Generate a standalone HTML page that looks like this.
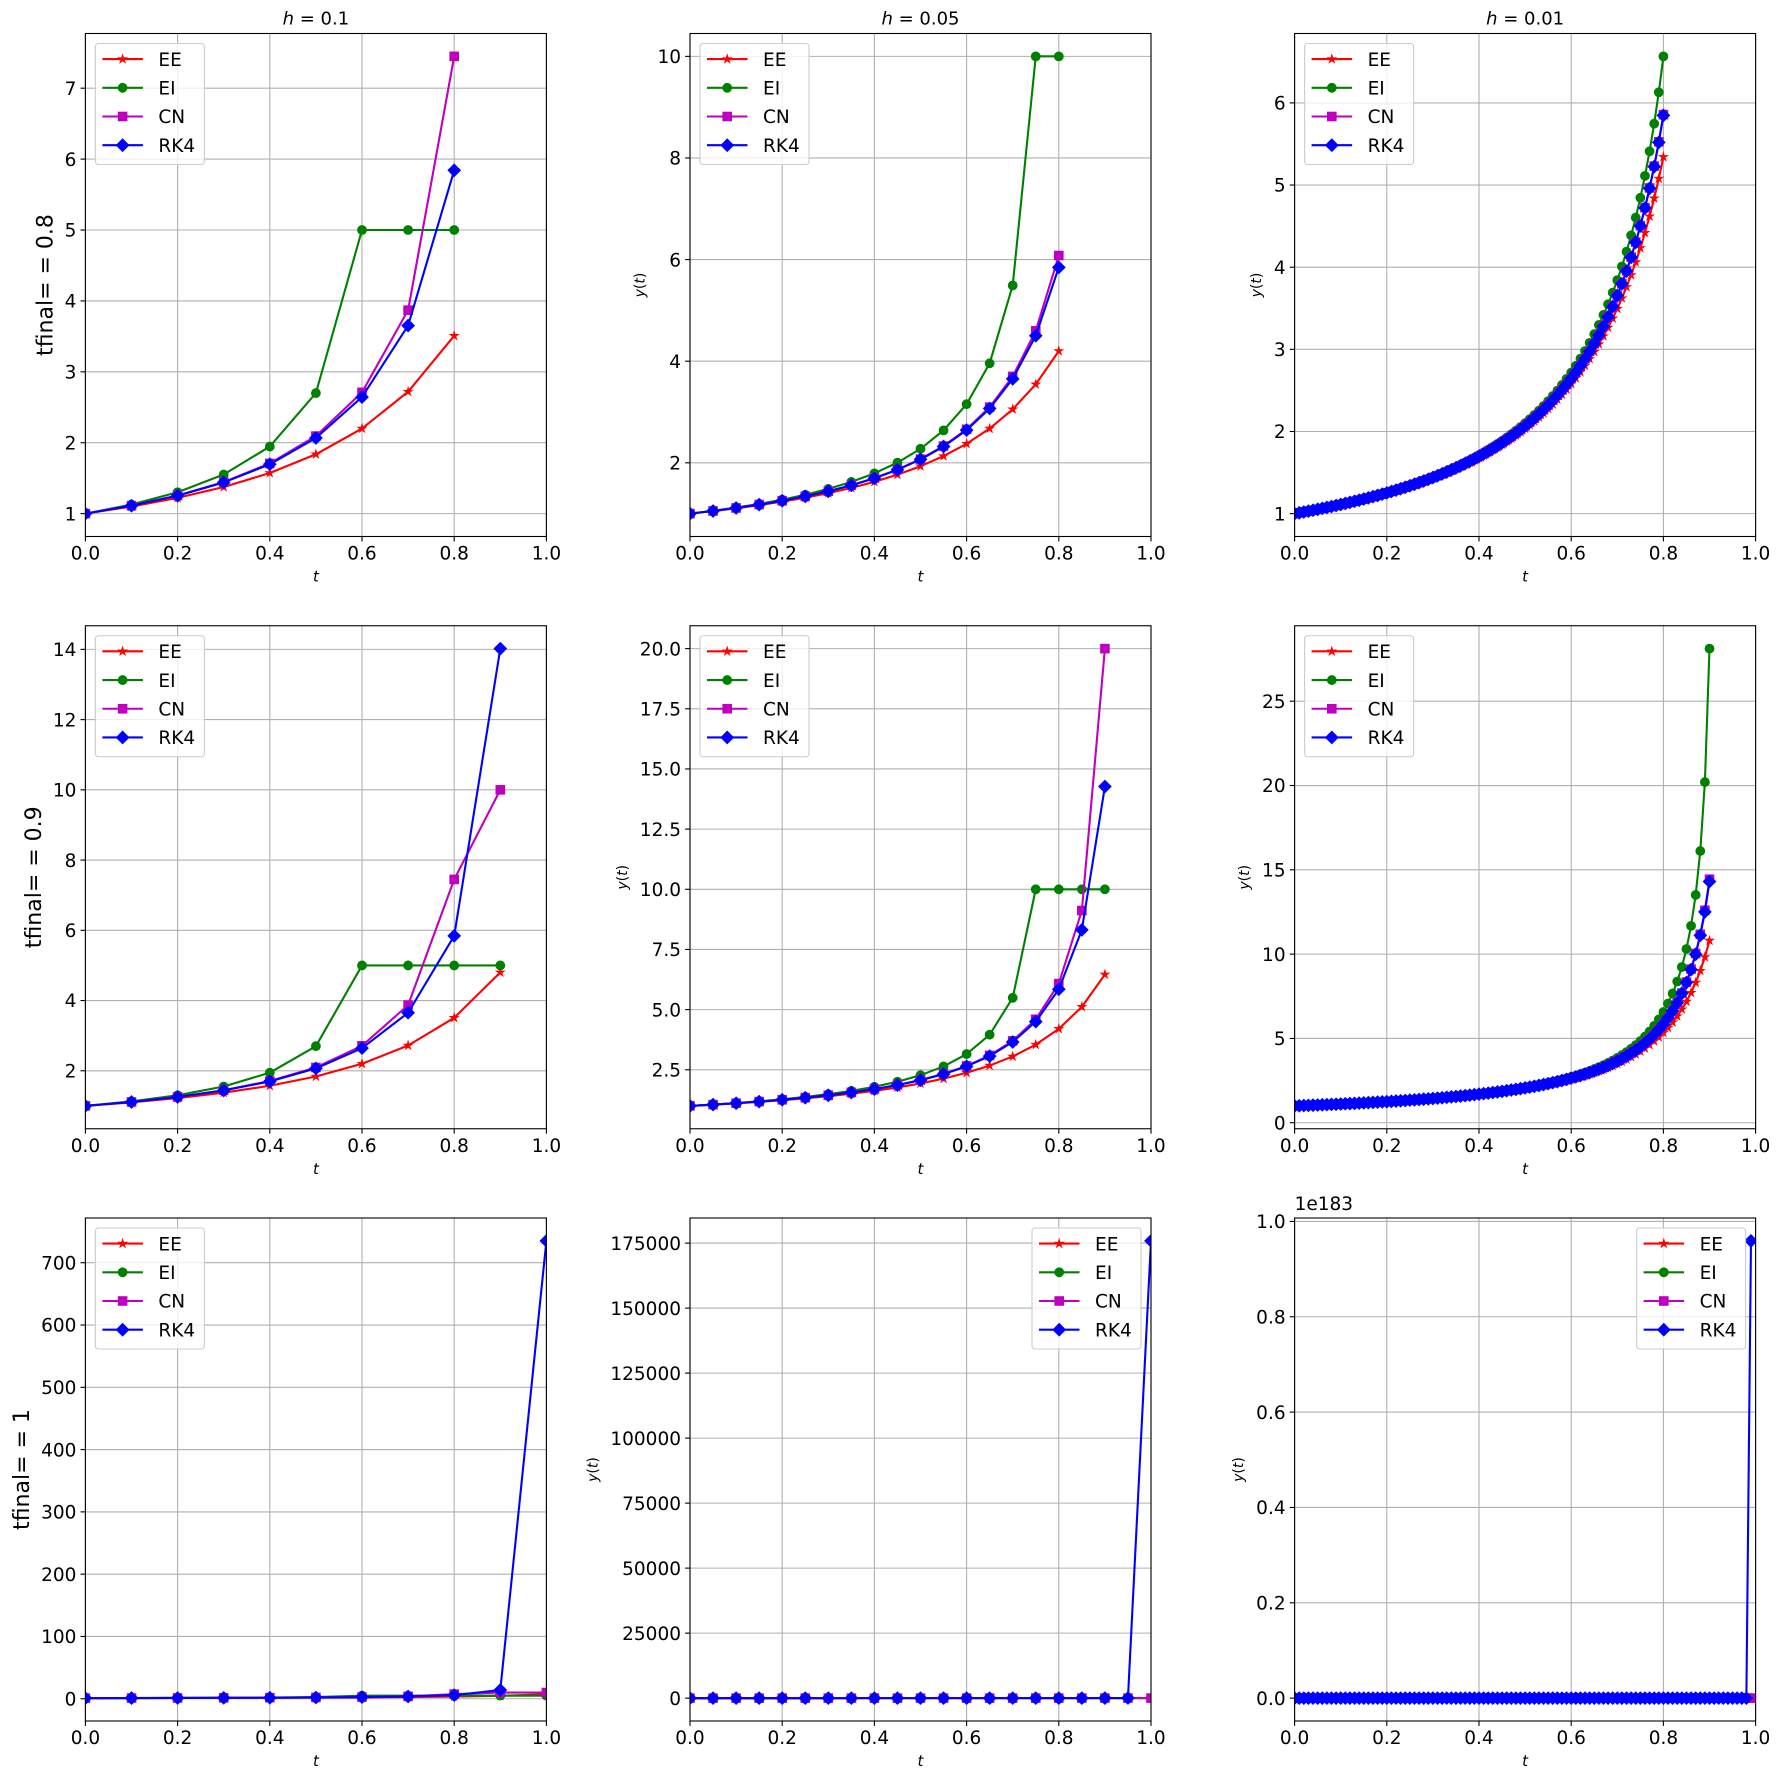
<!DOCTYPE html>
<html><head><meta charset="utf-8"><style>
html,body{margin:0;padding:0;background:#fff;}
svg{display:block;font-family:"DejaVu Sans","Liberation Sans",sans-serif;}
</style></head><body>
<svg id="s" width="1778" height="1778" viewBox="0 0 1778 1778" xmlns="http://www.w3.org/2000/svg"></svg>
<script>
const S=document.getElementById('s');let out='';
const colL=[85.4,690,1294.6],W=461,rowT=[33.5,625.75,1218],H=503;
const TF=[0.8,0.9,1.0],HS=[0.1,0.05,0.01];
const f=(t,y)=>t*t+y*y;
function solve(tf,h){
 const N=Math.round(tf/h);const t=[];for(let i=0;i<=N;i++)t.push(i*h);
 const ee=[1],ei=[1],cn=[1],rk=[1];
 for(let n=0;n<N;n++){
  const tn=t[n],t1=t[n+1];
  ee.push(ee[n]+h*f(tn,ee[n]));
  let c=ei[n]+h*t1*t1;let d=1-4*h*c;ei.push((1-Math.sqrt(Math.max(d,0)))/(2*h));
  c=cn[n]+h/2*(f(tn,cn[n])+t1*t1);d=1-2*h*c;cn.push((1-Math.sqrt(Math.max(d,0)))/h);
  const y=rk[n];const k1=f(tn,y),k2=f(tn+h/2,y+h/2*k1),k3=f(tn+h/2,y+h/2*k2),k4=f(t1,y+h*k3);
  rk.push(y+h/6*(k1+2*k2+2*k3+k4));
 }
 return {t,s:[ee,ei,cn,rk]};
}
const ticks=[
 [[1,2,3,4,5,6,7],[2,4,6,8,10],[1,2,3,4,5,6]],
 [[2,4,6,8,10,12,14],[2.5,5,7.5,10,12.5,15,17.5,20],[0,5,10,15,20,25]],
 [[0,100,200,300,400,500,600,700],[0,25000,50000,75000,100000,125000,150000,175000],[0,.2,.4,.6,.8,1].map(v=>v*1e183)]];
function lab(r,c,v){
 if(r==1&&c==1)return v.toFixed(1);
 if(r==2&&c==2)return (v/1e183).toFixed(1);
 return String(v);
}
const cols=['#ff0000','#008000','#bf00bf','#0000ff'];const names=['EE','EI','CN','RK4'];
function marker(k,x,y){
 const c=cols[k];
 if(k==0){let p='';for(let i=0;i<10;i++){const r=i%2?1.5:4.0;const a=-Math.PI/2+i*Math.PI/5;p+=(i?'L':'M')+(x+r*Math.cos(a)).toFixed(2)+','+(y+r*Math.sin(a)).toFixed(2);}return `<path d="${p}Z" fill="${c}" stroke="${c}" stroke-width="1.1"/>`;}
 if(k==1)return `<circle cx="${x}" cy="${y}" r="4.2" fill="${c}" stroke="${c}" stroke-width="1.4"/>`;
 if(k==2)return `<rect x="${x-4.1}" y="${y-4.1}" width="8.2" height="8.2" fill="${c}" stroke="${c}" stroke-width="1.4"/>`;
 return `<path d="M${x},${y-5.9}L${x+5.9},${y}L${x},${y+5.9}L${x-5.9},${y}Z" fill="${c}" stroke="${c}" stroke-width="1.4"/>`;
}
const FS=18.5,CW=11.78;
for(let r=0;r<3;r++)for(let c=0;c<3;c++){
 const L=colL[c],T=rowT[r],R=L+W,B=T+H;
 const d=solve(TF[r],HS[c]);
 let mn=Infinity,mx=-Infinity;d.s.forEach(a=>a.forEach(v=>{if(isFinite(v)){mn=Math.min(mn,v);mx=Math.max(mx,v);}}));
 const m=(mx-mn)*0.05;const y0=mn-m,y1=mx+m;
 const X=v=>L+v*W,Y=v=>B-(v-y0)/(y1-y0)*H;
 out+=`<clipPath id="c${r}${c}"><rect x="${L}" y="${T}" width="${W}" height="${H}"/></clipPath>`;
 for(let i=0;i<=5;i++){const x=X(i*0.2);out+=`<line x1="${x}" y1="${T}" x2="${x}" y2="${B}" stroke="#b0b0b0" stroke-width="1.1"/>`;
  out+=`<line x1="${x}" y1="${B}" x2="${x}" y2="${B+4.9}" stroke="#000" stroke-width="1.1"/>`;
  out+=`<text x="${x}" y="${B+23}" font-size="${FS}" text-anchor="middle">${(i*0.2).toFixed(1)}</text>`;}
 let maxw=0;
 ticks[r][c].forEach(v=>{if(v<y0||v>y1)return;const y=Y(v);const s=lab(r,c,v);
  maxw=Math.max(maxw,s.replace('.','').length*CW+(s.includes('.')?5.9:0));
  out+=`<line x1="${L}" y1="${y}" x2="${R}" y2="${y}" stroke="#b0b0b0" stroke-width="1.1"/>`;
  out+=`<line x1="${L-4.9}" y1="${y}" x2="${L}" y2="${y}" stroke="#000" stroke-width="1.1"/>`;
  out+=`<text x="${L-9}" y="${y+6.7}" font-size="${FS}" text-anchor="end">${s}</text>`;});
 out+=`<g clip-path="url(#c${r}${c})">`;
 d.s.forEach((a,k)=>{let p='',pen=false;
  a.forEach((v,i)=>{if(isFinite(v)){p+=(pen?'L':'M')+X(d.t[i]).toFixed(2)+','+Y(v).toFixed(2);pen=true;}else pen=false;});
  out+=`<path d="${p}" fill="none" stroke="${cols[k]}" stroke-width="2.1" stroke-linejoin="round"/>`;
  a.forEach((v,i)=>{if(isFinite(v))out+=marker(k,X(d.t[i]),Y(v));});
 });
 out+=`</g>`;
 out+=`<rect x="${L}" y="${T}" width="${W}" height="${H}" fill="none" stroke="#000" stroke-width="1.1"/>`;
 out+=`<text x="${(L+R)/2}" y="${B+45}" font-size="15" font-style="italic" text-anchor="middle">t</text>`;
 if(r==0)out+=`<text x="${(L+R)/2}" y="${T-9}" font-size="18" text-anchor="middle"><tspan font-style="italic">h</tspan> = ${HS[c]}</text>`;
 if(c==0){const xl=L-9-maxw-12;out+=`<text transform="translate(${xl},${(T+B)/2}) rotate(-90)" font-size="22" text-anchor="middle">tfinal= = ${TF[r]==1?'1':TF[r]}</text>`;}
 else{const xl=L-9-maxw-13;out+=`<text transform="translate(${xl},${(T+B)/2}) rotate(-90)" font-size="14" text-anchor="middle"><tspan font-style="italic">y</tspan>(<tspan font-style="italic">t</tspan>)</text>`;}
 if(r==2&&c==2)out+=`<text x="${L}" y="${T-8}" font-size="${FS}">1e183</text>`;
 const lw=109,lh=121;const lx=r==2&&c>0?R-10-lw:L+10,ly=T+10;
 out+=`<rect x="${lx}" y="${ly}" width="${lw}" height="${lh}" rx="3" fill="#fff" fill-opacity="0.8" stroke="#cccccc" stroke-width="1.1"/>`;
 for(let k=0;k<4;k++){const yy=ly+15.6+k*28.7;
  out+=`<line x1="${lx+7}" y1="${yy}" x2="${lx+47.5}" y2="${yy}" stroke="${cols[k]}" stroke-width="2.1"/>`;
  out+=marker(k,lx+27.2,yy);
  out+=`<text x="${lx+63}" y="${yy+6.7}" font-size="${FS}">${names[k]}</text>`;}
}
S.innerHTML=out;
</script>
</body></html>
